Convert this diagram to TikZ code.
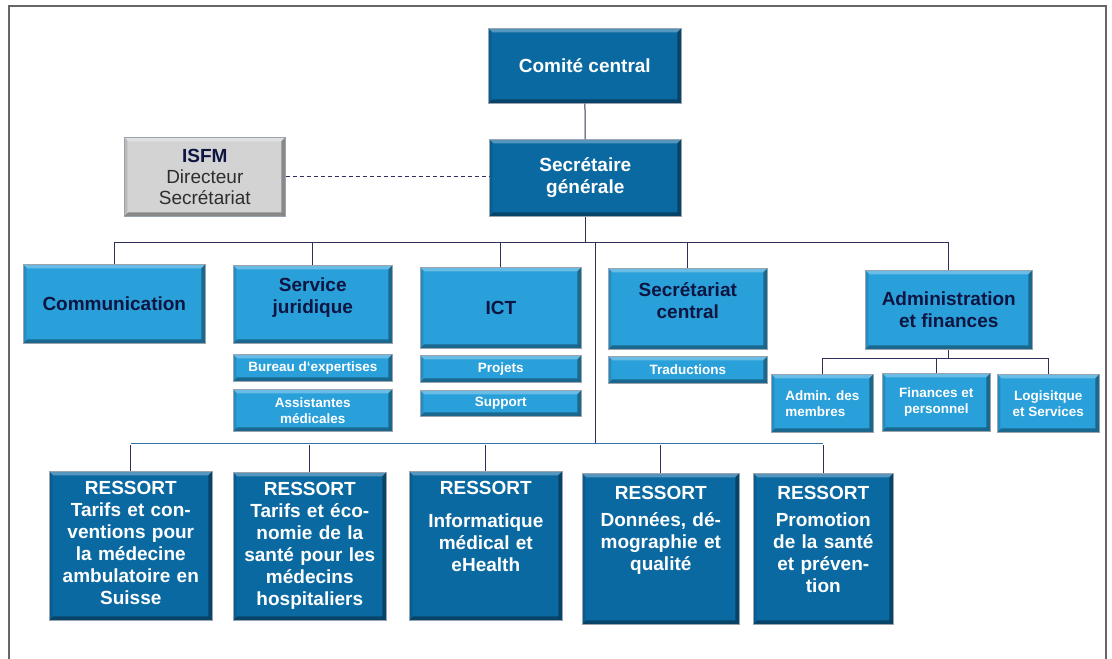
\documentclass[tikz,border=0pt]{standalone}
\usepackage{fontspec}
\setmainfont{Liberation Sans}
\usetikzlibrary{positioning,calc}
\definecolor{ressortblue}{HTML}{0B69A1}
\definecolor{unitblue}{HTML}{29A0DA}
\definecolor{navytext}{HTML}{0D1540}
\definecolor{isfmgrey}{HTML}{D3D3D3}
\definecolor{greytext}{HTML}{2E2E2E}
\definecolor{linenavy}{HTML}{2E2F5A}
\definecolor{busblue}{HTML}{2F74A8}
\definecolor{edgegrey}{HTML}{9AA3AE}
\tikzset{
	org chart/.style={
		x=1pt, y=-1pt,
		font=\bfseries\fontsize{19}{22}\selectfont,
		org line/.style={draw=linenavy, line width=1pt},
		bus line/.style={draw=busblue, line width=1pt},
		staff line/.style={draw=linenavy, line width=1pt, dash pattern=on 4pt off 3pt},
		frame line/.style={draw=black!60, line width=1.6pt}
	},
	bevel/.style={% light top edge, dark bottom and right edge
		path picture={
			\fill[white,opacity=.3] (\ppb.north west) -- (\ppb.north east)
				-- ([shift={(-4pt,-4pt)}]\ppb.north east) -- ([shift={(4pt,-4pt)}]\ppb.north west) -- cycle;
			\fill[black,opacity=.12] (\ppb.north west) -- (\ppb.south west)
				-- ([shift={(3pt,3pt)}]\ppb.south west) -- ([shift={(3pt,-3pt)}]\ppb.north west) -- cycle;
			\fill[black,opacity=.35] (\ppb.south east) -- (\ppb.north east)
				-- ([shift={(-4pt,-4pt)}]\ppb.north east) -- ([shift={(-4pt,4pt)}]\ppb.south east) -- cycle;
			\fill[black,opacity=.35] (\ppb.south west) -- (\ppb.south east)
				-- ([shift={(-4pt,4pt)}]\ppb.south east) -- ([shift={(4pt,4pt)}]\ppb.south west) -- cycle;
		}
	},
	unit/.style 2 args={
		rectangle,
		draw=edgegrey,
		line width=0.6pt,
		anchor=north west,
		inner sep=3pt,
		align=center,
		minimum width=#1,
		minimum height=#2,
		bevel
	},
	head box/.style 2 args={
		unit={#1}{#2},
		fill=ressortblue,
		text=white
	},
	service box/.style 2 args={
		unit={#1}{#2},
		fill=unitblue,
		text=navytext
	},
	sub box/.style 2 args={
		unit={#1}{#2},
		fill=unitblue,
		text=white,
		font=\bfseries\fontsize{13.5}{16}\selectfont
	},
	isfm box/.style 2 args={
		unit={#1}{#2},
		fill=isfmgrey,
		text=greytext,
		font=\fontsize{19}{21}\selectfont
	},
	ressort/.style 2 args={
		head box={#1}{#2},
		inner xsep=0pt,
		inner ysep=9pt,
		text width=136pt,
		text height=14pt,
		text depth=116pt
	}
}
\def\ppb{path picture bounding box}

\begin{document}
\begin{tikzpicture}[org chart]
	\useasboundingbox (0,0) rectangle (1112,659);
	\draw[frame line] (9,659) -- (9,6) -- (1106,6) -- (1106,659);

	% top of the chart
	\node[head box={193}{75}] (cc) at (488,28) {Comité central};
	\node[head box={192}{77}] (sg) at (489,139) {Secrétaire\\générale};
	\node[isfm box={161}{79}] (isfm) at (124,137) {\textbf{\color{navytext}ISFM}\\Directeur\\Secrétariat};

	% services
	\node[service box={182}{79}] (comm) at (23,264) {Communication};
	\node[service box={159}{78}] (sj) at (233,265) {Service\\juridique\\[-4pt]};
	\node[service box={161}{81}] (ict) at (420,267) {ICT};
	\node[service box={159}{81}] (sc) at (608,268) {Secrétariat\\central\\[-6pt]};
	\node[service box={167}{79}] (af) at (865,270) {Administration\\et finances};

	\node[sub box={159}{27}] (bx) at (233,354) {Bureau d‘expertises};
	\node[sub box={159}{42}] (am) at (233,389) {Assistantes\\médicales};
	\node[sub box={161}{27}] (proj) at (420,355) {Projets};
	\node[sub box={161}{26}] (supp) at (420,390) {Support};
	\node[sub box={159}{27}] (trad) at (608,356) {Traductions};

	\node[sub box={102}{58}, align=left] (adm) at (771,374) {Admin. des\\membres};
	\node[sub box={108}{58}] (fin) at (882,373) {Finances et\\personnel};
	\node[sub box={102}{58}] (log) at (997,374) {Logisitque\\et Services};

	% ressorts
	\node[ressort={163}{149}, text width=160pt] (r1) at (49,471) {RESSORT\\Tarifs et con-\\ventions pour\\la médecine\\ambulatoire en\\Suisse};
	\node[ressort={153}{148}, text width=150pt] (r2) at (233,472) {RESSORT\\Tarifs et éco-\\nomie de la\\santé pour les\\médecins\\hospitaliers};
	\node[ressort={153}{149}] (r3) at (409,471) {RESSORT\\[11pt]Informatique\\médical et\\eHealth};
	\node[ressort={157}{147}, text height=17pt] (r4) at (582,473) {RESSORT\\[5pt]Données, dé-\\mographie et\\qualité};
	\node[ressort={140}{147}, text height=17pt] (r5) at (753,473) {RESSORT\\[5pt]Promotion\\de la santé\\et préven-\\tion};

	% connectors
	\coordinate (bus1) at (0,242);
	\coordinate (bus2) at (0,443);
	\coordinate (bus3) at (0,358);
	\coordinate (trunk) at (595,242);

	\draw[org line] (cc) -- (sg);
	\draw[staff line] (isfm.east) -- (isfm.east -| sg.west);
	\draw[org line] (sg.south) -- (sg.south |- bus1);
	\draw[org line] (comm.north) |- (af.north |- bus1) -- (af.north);
	\foreach \n in {sj,ict,sc}
		\draw[org line] (\n.north) -- (\n.north |- bus1);

	\draw[org line] (trunk) -- (trunk |- bus2);
	\draw[bus line] (r1.north |- bus2) -- (r5.north |- bus2);
	\foreach \n in {r1,r2,r3,r4,r5}
		\draw[org line] (\n.north) -- ([yshift=-2pt]\n.north |- bus2);

	\draw[org line] (af.south) -- (af.south |- bus3);
	\draw[org line] (adm.north) |- (log.north |- bus3) -- (log.north);
	\draw[org line] (fin.north) -- (fin.north |- bus3);
\end{tikzpicture}
\end{document}
